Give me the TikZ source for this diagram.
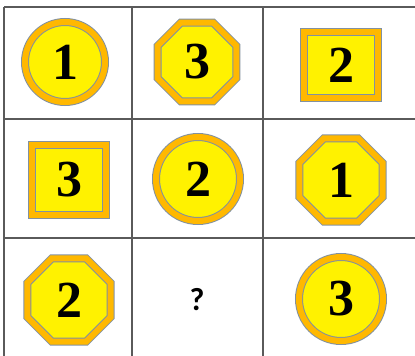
\documentclass[tikz,border=0pt]{standalone}
\usepackage{fontspec}
\setmainfont{Liberation Serif}
\newfontfamily\qfont{Carlito}
\usetikzlibrary{shapes.geometric}
\definecolor{ringorange}{RGB}{255,184,0}
\definecolor{ringedge}{RGB}{130,145,160}
\definecolor{gridgray}{RGB}{90,90,90}
\tikzset{
  badge/.style={draw=ringedge, line width=1pt, double=ringorange, double distance=6pt,
    fill=yellow, inner sep=0pt, font=\fontsize{52}{52}\selectfont\bfseries},
  roundbadge/.style={badge, circle, minimum size=80pt},
  octbadge/.style={badge, regular polygon, regular polygon sides=8, minimum size=90pt},
  squarebadge/.style={badge, rectangle, minimum width=74pt, minimum height=66pt},
}
\begin{document}
\begin{tikzpicture}[x=1pt,y=-1pt]
  \useasboundingbox (0,0) rectangle (415,356);
  % Grid
  \foreach \x in {4,132,263}
    \draw[gridgray,line width=1.3pt] (\x,7) -- (\x,356);
  \foreach \y in {7,119,238}
    \draw[gridgray,line width=1.3pt] (4,\y) -- (415,\y);
  % Row 1
  \node[roundbadge] (c11) at (65,62) {1};
  \node[octbadge,minimum size=85pt] (c12) at (197,62) {3};
  \node[squarebadge] (c13) at (341,65) {2};
  % Row 2
  \node[squarebadge,minimum height=70pt] (c21) at (69,180) {3};
  \node[roundbadge,minimum size=84pt] (c22) at (198,179) {2};
  \node[octbadge] (c23) at (341,180) {1};
  % Row 3
  \node[octbadge] (c31) at (69,300) {2};
  \node[font=\qfont\bfseries\fontsize{32}{32}\selectfont] (q) at (197,300) {?};
  \node[roundbadge,minimum size=84pt] (c33) at (341,299) {3};
\end{tikzpicture}
\end{document}
